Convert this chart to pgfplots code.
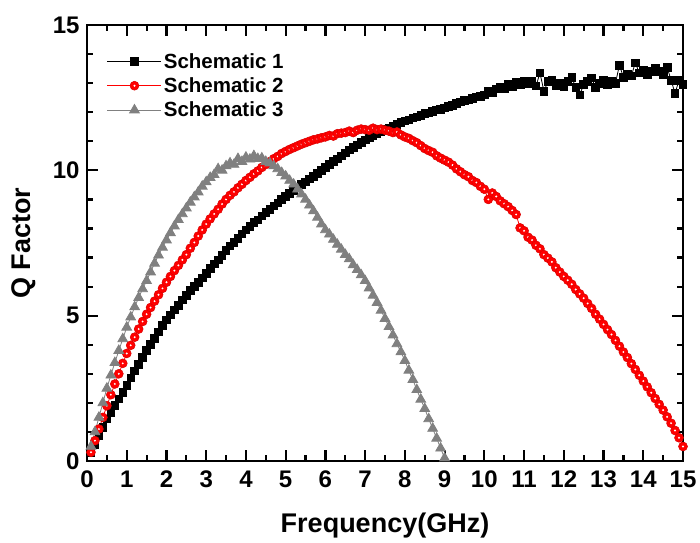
\documentclass[border=0pt]{standalone}
\usepackage{fontspec}
\setmainfont{Liberation Sans}
\usepackage{pgfplots}
\pgfplotsset{compat=1.18}
\definecolor{triGray}{RGB}{128,128,128}

% red circle with a small white highlight, as in the reference
\pgfdeclareplotmark{redball}{%
  \pgfpathcircle{\pgfpointorigin}{\pgfplotmarksize}%
  \pgfusepathqfillstroke
  \begin{pgfscope}%
    \pgfsetfillcolor{white}%
    \pgfpathcircle{\pgfpointorigin}{0.24\pgfplotmarksize}%
    \pgfusepathqfill
  \end{pgfscope}}

\pgfplotstableread{
f q
0.1 0.30
0.2 0.58
0.3 0.87
0.4 1.16
0.5 1.45
0.6 1.68
0.7 1.92
0.8 2.14
0.9 2.37
1.0 2.60
1.1 2.86
1.2 3.10
1.3 3.33
1.4 3.57
1.5 3.80
1.6 4.02
1.7 4.22
1.8 4.44
1.9 4.66
2.0 4.85
2.1 5.03
2.2 5.20
2.3 5.36
2.4 5.54
2.5 5.70
2.6 5.86
2.7 6.00
2.8 6.14
2.9 6.30
3.0 6.45
3.1 6.62
3.2 6.78
3.3 6.92
3.4 7.08
3.5 7.25
3.6 7.40
3.7 7.52
3.8 7.66
3.9 7.82
4.0 7.95
4.1 8.07
4.2 8.20
4.3 8.30
4.4 8.43
4.5 8.55
4.6 8.66
4.7 8.78
4.8 8.88
4.9 8.99
5.0 9.10
5.1 9.21
5.2 9.30
5.3 9.40
5.4 9.51
5.5 9.60
5.6 9.70
5.7 9.80
5.8 9.90
5.9 10.00
6.0 10.10
6.1 10.20
6.2 10.30
6.3 10.40
6.4 10.50
6.5 10.60
6.6 10.70
6.7 10.78
6.8 10.87
6.9 10.96
7.0 11.05
7.1 11.12
7.2 11.20
7.3 11.26
7.4 11.33
7.5 11.40
7.6 11.46
7.7 11.52
7.8 11.58
7.9 11.64
8.0 11.70
8.1 11.74
8.2 11.80
8.3 11.84
8.4 11.90
8.5 11.95
8.6 11.98
8.7 12.02
8.8 12.08
8.9 12.10
9.0 12.15
9.1 12.20
9.2 12.24
9.3 12.30
9.4 12.35
9.5 12.40
9.6 12.42
9.7 12.48
9.8 12.52
9.9 12.55
10.0 12.60
10.1 12.72
10.2 12.66
10.3 12.80
10.4 12.85
10.5 12.80
10.6 12.95
10.7 12.88
10.8 13.02
10.9 12.95
11.0 13.05
11.1 12.98
11.2 13.08
11.3 12.90
11.4 13.35
11.5 12.72
11.6 13.05
11.7 13.10
11.8 12.90
11.9 13.00
12.0 12.88
12.1 13.05
12.2 13.20
12.3 12.85
12.4 12.60
12.5 12.95
12.6 13.05
12.7 13.18
12.8 12.85
12.9 13.00
13.0 13.10
13.1 12.95
13.2 13.05
13.3 13.00
13.4 13.62
13.5 13.20
13.6 13.30
13.7 13.25
13.8 13.70
13.9 13.35
14.0 13.45
14.1 13.30
14.2 13.40
14.3 13.50
14.4 13.40
14.5 13.30
14.6 13.55
14.7 13.10
14.8 12.65
14.9 13.10
15.0 12.95
}\schemone

\pgfplotstableread{
f q
0.1 0.30
0.2 0.70
0.3 1.10
0.4 1.50
0.5 1.90
0.6 2.28
0.7 2.65
0.8 3.00
0.9 3.36
1.0 3.70
1.1 3.98
1.2 4.26
1.3 4.54
1.4 4.80
1.5 5.05
1.6 5.28
1.7 5.50
1.8 5.72
1.9 5.94
2.0 6.15
2.1 6.35
2.2 6.55
2.3 6.73
2.4 6.92
2.5 7.10
2.6 7.32
2.7 7.52
2.8 7.74
2.9 7.95
3.0 8.15
3.1 8.33
3.2 8.50
3.3 8.66
3.4 8.84
3.5 9.00
3.6 9.14
3.7 9.26
3.8 9.40
3.9 9.52
4.0 9.65
4.1 9.76
4.2 9.88
4.3 9.98
4.4 10.10
4.5 10.20
4.6 10.30
4.7 10.40
4.8 10.48
4.9 10.58
5.0 10.65
5.1 10.72
5.2 10.78
5.3 10.84
5.4 10.90
5.5 10.95
5.6 11.00
5.7 11.05
5.8 11.08
5.9 11.12
6.0 11.15
6.1 11.20
6.2 11.18
6.3 11.26
6.4 11.28
6.5 11.30
6.6 11.35
6.7 11.30
6.8 11.38
6.9 11.42
7.0 11.40
7.1 11.38
7.2 11.45
7.3 11.40
7.4 11.42
7.5 11.38
7.6 11.35
7.7 11.30
7.8 11.32
7.9 11.22
8.0 11.15
8.1 11.10
8.2 11.02
8.3 10.95
8.4 10.85
8.5 10.75
8.6 10.68
8.7 10.62
8.8 10.50
8.9 10.42
9.0 10.35
9.1 10.28
9.2 10.18
9.3 10.05
9.4 9.95
9.5 9.85
9.6 9.78
9.7 9.65
9.8 9.58
9.9 9.45
10.0 9.35
10.1 9.00
10.2 9.22
10.3 9.10
10.4 8.95
10.5 8.85
10.6 8.75
10.7 8.62
10.8 8.48
10.9 8.02
11.0 7.92
11.1 7.70
11.2 7.60
11.3 7.42
11.4 7.30
11.5 7.10
11.6 6.98
11.7 6.85
11.8 6.65
11.9 6.50
12.0 6.35
12.1 6.22
12.2 6.08
12.3 5.90
12.4 5.75
12.5 5.60
12.6 5.42
12.7 5.25
12.8 5.05
12.9 4.88
13.0 4.70
13.1 4.52
13.2 4.35
13.3 4.15
13.4 3.95
13.5 3.75
13.6 3.56
13.7 3.35
13.8 3.15
13.9 2.95
14.0 2.75
14.1 2.55
14.2 2.35
14.3 2.15
14.4 1.95
14.5 1.75
14.6 1.52
14.7 1.30
14.8 1.05
14.9 0.80
15.0 0.50
}\schemtwo

\pgfplotstableread{
f q
0.1 0.50
0.2 1.00
0.3 1.50
0.4 2.00
0.5 2.50
0.6 2.95
0.7 3.38
0.8 3.80
0.9 4.20
1.0 4.60
1.1 4.95
1.2 5.30
1.3 5.62
1.4 5.92
1.5 6.20
1.6 6.50
1.7 6.80
1.8 7.08
1.9 7.35
2.0 7.60
2.1 7.85
2.2 8.08
2.3 8.30
2.4 8.50
2.5 8.70
2.6 8.90
2.7 9.08
2.8 9.25
2.9 9.45
3.0 9.60
3.1 9.75
3.2 9.85
3.3 10.05
3.4 10.00
3.5 10.15
3.6 10.25
3.7 10.20
3.8 10.40
3.9 10.30
4.0 10.45
4.1 10.38
4.2 10.50
4.3 10.40
4.4 10.42
4.5 10.30
4.6 10.25
4.7 10.15
4.8 10.05
4.9 9.92
5.0 9.80
5.1 9.65
5.2 9.52
5.3 9.35
5.4 9.18
5.5 9.00
5.6 8.80
5.7 8.60
5.8 8.38
5.9 8.15
6.0 7.95
6.1 7.80
6.2 7.62
6.3 7.45
6.4 7.28
6.5 7.10
6.6 6.95
6.7 6.75
6.8 6.58
6.9 6.40
7.0 6.20
7.1 5.95
7.2 5.70
7.3 5.45
7.4 5.18
7.5 4.90
7.6 4.62
7.7 4.33
7.8 4.03
7.9 3.75
8.0 3.45
8.1 3.12
8.2 2.80
8.3 2.45
8.4 2.12
8.5 1.80
8.6 1.45
8.7 1.12
8.8 0.78
8.9 0.44
9.0 0.10
}\schemthree

\begin{document}
\begin{tikzpicture}
% fix page size to the reference proportions (axis box at 0,0)
\path[use as bounding box] (-87pt,-81pt) rectangle (613pt,461pt);
\begin{axis}[
  scale only axis,
  width=596pt, height=436pt,
  xmin=0, xmax=15, ymin=0, ymax=15,
  xtick={0,1,...,15}, ytick={0,5,10,15},
  minor x tick num=1, minor y tick num=4,
  tick align=inside,
  major tick length=11pt, minor tick length=6pt,
  axis line style={line width=2.6pt},
  every tick/.style={black, line width=2.2pt},
  /pgf/number format/assume math mode=true,
  tick label style={font=\bfseries\fontsize{24}{24}\selectfont},
  xticklabel style={yshift=-6pt},
  yticklabel style={xshift=-4pt},
  label style={font=\bfseries\fontsize{27}{27}\selectfont},
  xlabel={Frequency(GHz)}, ylabel={Q Factor},
  xlabel style={at={(axis description cs:0.5,-0.165)}, anchor=base},
  ylabel style={at={(axis description cs:-0.106,0.5)}, anchor=center},
  clip=false,
  legend style={at={(0.03,0.945)}, anchor=north west, draw=none, fill=none,
    font=\bfseries\fontsize{20.5}{20.5}\selectfont, row sep=4pt, inner sep=2pt},
  legend cell align=left,
  legend image code/.code={\draw[mark repeat=2,mark phase=2,#1]
    plot coordinates {(0pt,0pt) (27pt,0pt) (54pt,0pt)};},
]
\addplot[black, line width=0.8pt, mark=square*, mark size=3.8pt,
  mark options={solid, fill=black}] table {\schemone};
\addlegendentry{Schematic 1}
\addplot[red, line width=0.8pt, mark=redball, mark size=4.5pt,
  mark options={solid, fill=red, draw=red!85!black, line width=0.5pt}] table {\schemtwo};
\addlegendentry{Schematic 2}
\addplot[triGray, line width=0.8pt, mark=triangle*, mark size=5.6pt,
  mark options={solid, fill=triGray, draw=triGray}] table {\schemthree};
\addlegendentry{Schematic 3}
\end{axis}
\end{tikzpicture}
\end{document}
